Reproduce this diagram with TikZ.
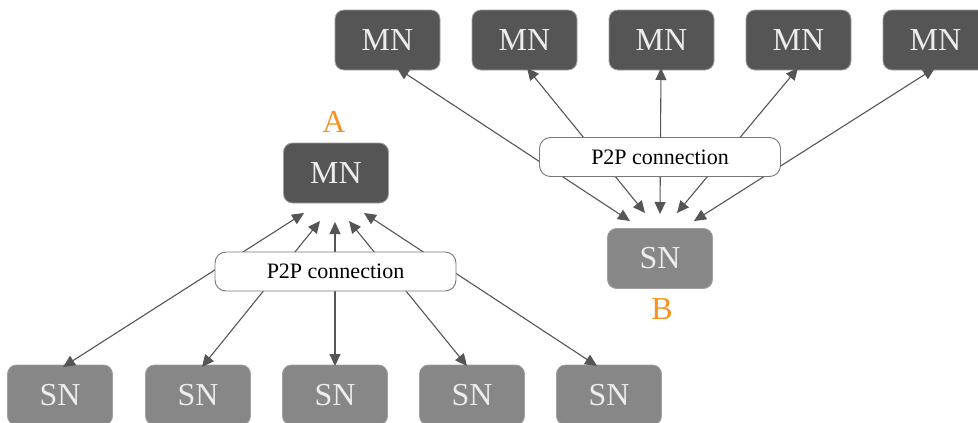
\documentclass[tikz,border=0pt]{standalone}
\usepackage{fontspec}
\setmainfont{Liberation Serif}
\usetikzlibrary{arrows.meta,calc}
\definecolor{mnfill}{HTML}{555555}
\definecolor{snfill}{HTML}{878787}
\definecolor{boxedge}{HTML}{A0A0A0}
\definecolor{linkcol}{HTML}{555555}
\definecolor{tagcol}{HTML}{F7931E}
\tikzset{
  nodebox/.style={rounded corners=9pt, draw=boxedge, line width=0.8pt,
    minimum width=105pt, minimum height=60pt, inner sep=0pt, outer sep=0pt,
    text=white!93!black, font=\fontsize{32}{34}\selectfont},
  mnbox/.style={nodebox, fill=mnfill},
  snbox/.style={nodebox, fill=snfill},
  p2pbox/.style={rounded corners=11pt, draw=linkcol!80, line width=0.9pt, fill=white,
    minimum width=241pt, minimum height=39pt, inner sep=0pt,
    font=\fontsize{22}{24}\selectfont},
  tag/.style={text=tagcol, font=\fontsize{32}{34}\selectfont, inner sep=0pt},
  link/.style={draw=linkcol, line width=1.1pt,
    {Triangle[length=12pt,width=11pt]}-{Triangle[length=12pt,width=11pt]}}
}
\begin{document}
\begin{tikzpicture}[x=1pt,y=-1pt]
\useasboundingbox (0,0) rectangle (978,423);

% cluster A: one main node linked to five sub nodes
\node[mnbox] (mnA) at (336,173) {MN};
\node[tag] (tagA) at (334,122) {A};
\foreach \i/\x in {1/60,2/198,3/335,4/472,5/609}
  \node[snbox] (sn\i) at (\x,395) {SN};
\coordinate (a1) at (304,213);
\coordinate (a2) at (320,221);
\coordinate (a3) at (335,222);
\coordinate (a4) at (349,221);
\coordinate (a5) at (364,213);
\path[link] ([xshift=3pt,yshift=-2pt]sn1.north) -- (a1);
\path[link] ([xshift=4pt,yshift=-2pt]sn2.north) -- (a2);
\path[link] ([yshift=-1pt]sn3.north) -- (a3);
\path[link] ([xshift=-5pt,yshift=-1pt]sn4.north) -- (a4);
\path[link] ([xshift=-12pt,yshift=-1pt]sn5.north) -- (a5);
\node[p2pbox] (p2pA) at (335.5,271.5) {P2P connection};

% cluster B: five main nodes linked to one sub node
\foreach \i/\x in {1/387.5,2/524.5,3/661.5,4/798.5,5/935.5}
  \node[mnbox] (mn\i) at (\x,40) {MN};
\node[snbox] (snB) at (660,258.5) {SN};
\node[tag] (tagB) at (662,309) {B};
\coordinate (b1) at (630,221);
\coordinate (b2) at (645,213);
\coordinate (b3) at (660,214);
\coordinate (b4) at (677,213);
\coordinate (b5) at (694,221);
\path[link] ([xshift=9.5pt,yshift=2pt]mn1.south) -- (b1);
\path[link] ([xshift=2.5pt,yshift=2pt]mn2.south) -- (b2);
\path[link] ([xshift=-0.5pt,yshift=2pt]mn3.south) -- (b3);
\path[link] ([xshift=-0.5pt,yshift=2pt]mn4.south) -- (b4);
\path[link] ([xshift=-0.5pt,yshift=2pt]mn5.south) -- (b5);
\node[p2pbox] (p2pB) at (660,157) {P2P connection};
\end{tikzpicture}
\end{document}
